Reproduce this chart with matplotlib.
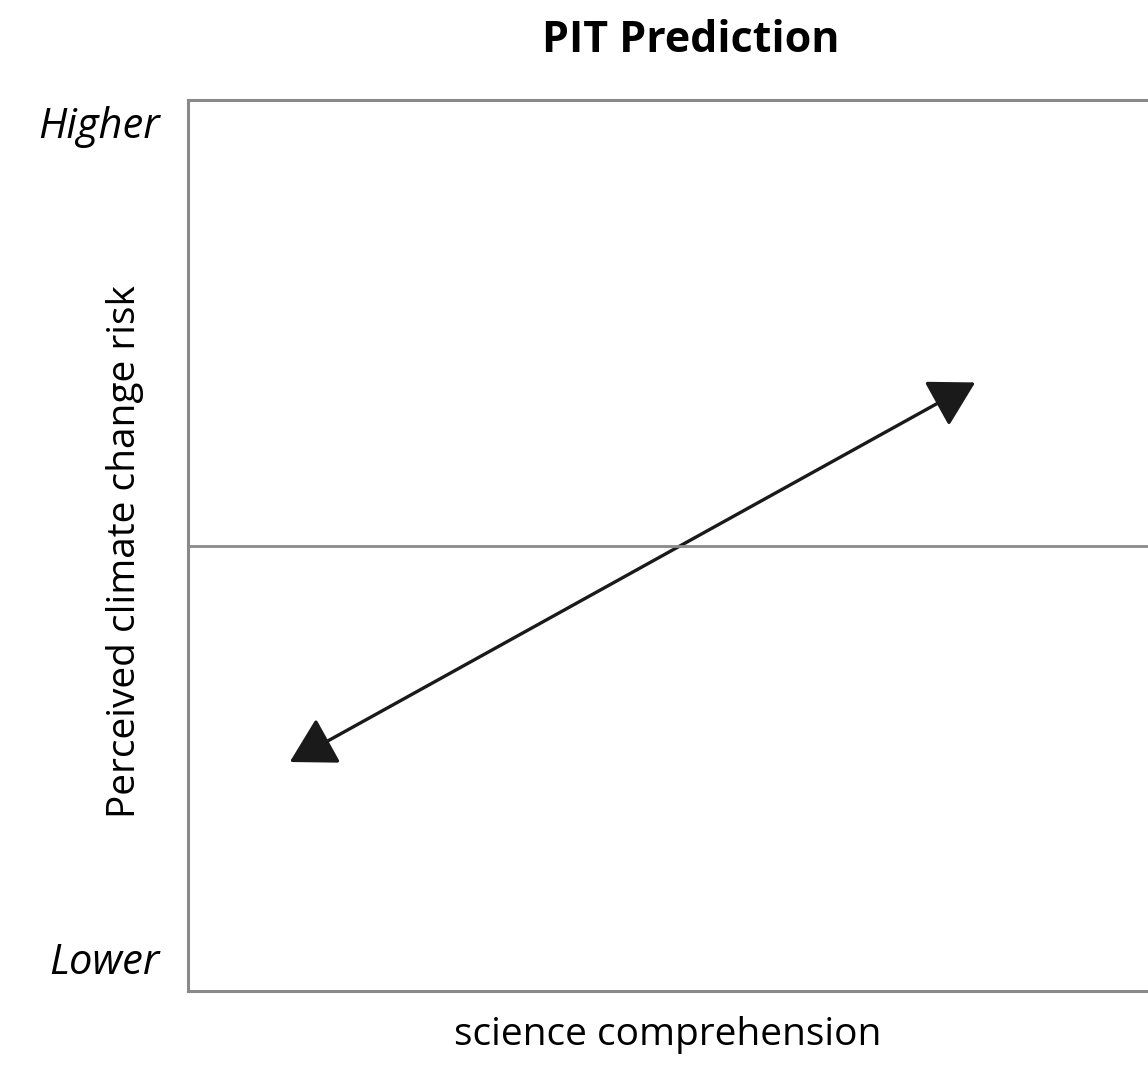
import matplotlib.pyplot as plt
from matplotlib.patches import FancyArrowPatch

title = "PIT Prediction"
x_label = "science comprehension"
y_label = "Perceived climate change risk"
y_ticks = ["Lower", "Higher"]

# arrow ends in axes units (0..1)
arrow_start = (0.106, 0.257)
arrow_end = (0.820, 0.683)
midline = 0.5

plt.rcParams['font.family'] = ['Open Sans', 'DejaVu Sans']

fig = plt.figure(figsize=(11.48, 10.68), dpi=100)
ax = fig.add_axes([188 / 1148, 1 - 991 / 1068, 960 / 1148, 891 / 1068])
ax.set_xlim(0, 1)
ax.set_ylim(0, 1)
ax.set_xticks([])
ax.set_yticks([])
for side in ["left", "top", "bottom"]:
    ax.spines[side].set_color("#8a8a8a")
    ax.spines[side].set_linewidth(2.2)
ax.spines["right"].set_visible(False)

ax.axhline(midline, color="#8a8a8a", lw=2.0)

arrow = FancyArrowPatch(arrow_start, arrow_end,
                        arrowstyle="<|-|>,head_length=1.4,head_width=0.8",
                        mutation_scale=20, color="#1a1a1a", lw=2.4,
                        shrinkA=0, shrinkB=0)
ax.add_patch(arrow)

fig.text(691 / 1148, 1 - 40 / 1068, title, ha="center", va="center",
         fontsize=31, fontweight="bold")
fig.text(668 / 1148, 1 - 1035 / 1068, x_label, ha="center", va="center",
         fontsize=28)
fig.text(125 / 1148, 1 - 552 / 1068, y_label, ha="center", va="center",
         rotation=90, fontsize=28)
fig.text(160 / 1148, 1 - 963 / 1068, y_ticks[0], ha="right", va="center",
         fontsize=30, style="italic")
fig.text(160 / 1148, 1 - 127 / 1068, y_ticks[1], ha="right", va="center",
         fontsize=30, style="italic")

fig.savefig("out.png", dpi=100)
